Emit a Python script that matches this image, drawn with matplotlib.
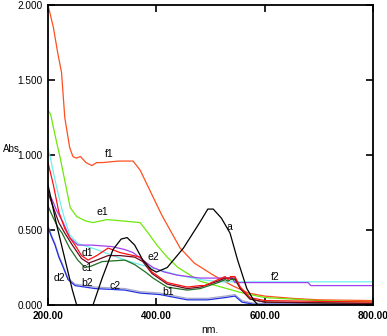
import numpy as np
import matplotlib.pyplot as plt

plt.rcParams['font.family'] = ['Liberation Sans', 'DejaVu Sans']

# wavelength (nm) / absorbance pairs
a_x = [200, 205, 215, 225, 235, 245, 253, 283, 300, 320, 335, 346, 360, 375, 390, 400, 420, 450, 480, 495, 505, 520, 536, 550, 567, 580, 588, 800]
a_y = [0.80, 0.72, 0.55, 0.40, 0.25, 0.10, 0.00, 0.00, 0.18, 0.37, 0.44, 0.45, 0.40, 0.30, 0.24, 0.22, 0.25, 0.38, 0.55, 0.64, 0.64, 0.58, 0.48, 0.30, 0.11, 0.03, 0.00, 0.00]

f1_x = [200, 210, 218, 225, 231, 240, 246, 252, 260, 270, 281, 290, 301, 330, 357, 370, 390, 410, 430, 444, 470, 505, 540, 570, 600, 650, 700, 800]
f1_y = [2.00, 1.85, 1.68, 1.55, 1.25, 1.05, 0.99, 0.98, 0.99, 0.95, 0.93, 0.95, 0.95, 0.96, 0.96, 0.90, 0.75, 0.60, 0.47, 0.38, 0.28, 0.20, 0.13, 0.08, 0.06, 0.045, 0.035, 0.03]

e1_x = [200, 205, 215, 222, 231, 241, 253, 270, 283, 309, 340, 370, 385, 401, 420, 440, 480, 520, 560, 600, 700, 800]
e1_y = [1.30, 1.27, 1.10, 0.99, 0.83, 0.65, 0.59, 0.56, 0.55, 0.57, 0.56, 0.55, 0.48, 0.40, 0.32, 0.25, 0.16, 0.12, 0.08, 0.05, 0.03, 0.02]

f2_x = [200, 205, 215, 225, 231, 240, 255, 290, 320, 342, 370, 400, 440, 481, 520, 800]
f2_y = [1.05, 0.97, 0.80, 0.65, 0.57, 0.47, 0.41, 0.37, 0.33, 0.30, 0.27, 0.24, 0.20, 0.17, 0.155, 0.155]

e2_x = [200, 208, 216, 228, 240, 255, 280, 318, 342, 357, 375, 394, 415, 438, 481, 540, 545, 680, 685, 800]
e2_y = [0.75, 0.70, 0.63, 0.55, 0.45, 0.40, 0.40, 0.39, 0.37, 0.35, 0.30, 0.25, 0.22, 0.20, 0.18, 0.18, 0.15, 0.15, 0.13, 0.13]

red_x = [200, 210, 220, 231, 240, 250, 262, 274, 290, 311, 333, 370, 380, 392, 420, 457, 481, 490, 514, 527, 532, 537, 545, 555, 573, 600, 700, 800]
red_y = [0.95, 0.80, 0.62, 0.51, 0.45, 0.40, 0.33, 0.30, 0.33, 0.38, 0.35, 0.32, 0.28, 0.22, 0.15, 0.12, 0.13, 0.13, 0.17, 0.19, 0.17, 0.19, 0.19, 0.12, 0.05, 0.03, 0.025, 0.02]

d1_x = [200, 210, 220, 231, 245, 262, 275, 290, 311, 333, 360, 375, 392, 420, 457, 481, 514, 527, 545, 555, 573, 600, 800]
d1_y = [0.75, 0.65, 0.55, 0.48, 0.40, 0.31, 0.28, 0.30, 0.33, 0.33, 0.32, 0.29, 0.21, 0.14, 0.11, 0.12, 0.16, 0.18, 0.18, 0.11, 0.04, 0.02, 0.01]

c1_x = [200, 210, 218, 226, 240, 255, 263, 268, 280, 300, 342, 360, 380, 394, 420, 457, 481, 514, 527, 532, 537, 545, 555, 573, 600, 800]
c1_y = [0.66, 0.58, 0.52, 0.48, 0.38, 0.30, 0.27, 0.25, 0.26, 0.29, 0.30, 0.27, 0.22, 0.18, 0.12, 0.10, 0.11, 0.15, 0.17, 0.16, 0.17, 0.17, 0.11, 0.04, 0.02, 0.01]

d2_x = [200, 206, 213, 220, 226, 237, 250, 287, 342, 370, 407, 457, 495, 527, 545, 558, 580, 800]
d2_y = [0.52, 0.46, 0.40, 0.32, 0.27, 0.17, 0.13, 0.11, 0.10, 0.08, 0.07, 0.035, 0.035, 0.05, 0.06, 0.02, 0.005, 0.005]

g_x = [200, 206, 213, 220, 226, 237, 250, 287, 342, 370, 407, 457, 495, 527, 545, 558, 580, 800]
g_y = [0.53, 0.47, 0.41, 0.33, 0.28, 0.18, 0.14, 0.12, 0.11, 0.09, 0.08, 0.045, 0.045, 0.06, 0.07, 0.03, 0.012, 0.012]

curves = [
    (f1_x, f1_y, '#ff4f1f'),
    (e1_x, e1_y, '#6ee80a'),
    (f2_x, f2_y, '#6cf0ee'),
    (e2_x, e2_y, '#a040f0'),
    (g_x, g_y, '#a8a8c8'),
    (d2_x, d2_y, '#2030e0'),
    (c1_x, c1_y, '#1f6e24'),
    (d1_x, d1_y, '#6a0a20'),
    (red_x, red_y, '#ff1010'),
    (a_x, a_y, '#000000'),
]

# curve labels: text, x (nm), y (abs)
lab_text = ['a', 'f1', 'e1', 'e2', 'd1', 'c1', 'd2', 'b2', 'c2', 'b1', 'f2']
lab_x = [534, 313, 300, 394, 272, 272, 222, 272, 324, 422, 619]
lab_y = [0.52, 1.01, 0.62, 0.32, 0.35, 0.25, 0.18, 0.15, 0.13, 0.09, 0.19]

fig = plt.figure(figsize=(3.87, 3.36), dpi=100)
ax = fig.add_axes([0.124, 0.092, 0.840, 0.893])

for xs, ys, c in curves:
    ax.plot(xs, ys, color=c, lw=0.9)

for t, x, y in zip(lab_text, lab_x, lab_y):
    ax.text(x, y, t, fontsize=7.5, ha='center', va='center')

ax.set_xlim(200, 800)
ax.set_ylim(0, 2.0)
ax.set_xticks([200, 400, 600, 800])
ax.set_xticklabels(['200.00', '400.00', '600.00', '800.00'], fontweight='bold')
ax.set_yticks([0, 0.5, 1.0, 1.5, 2.0])
ax.set_yticklabels(['0.000', '0.500', '1.000', '1.500', '2.000'])
ax.tick_params(direction='in', length=5, width=1.2, labelsize=7.2, top=True, right=True, pad=4)
for s in ax.spines.values():
    s.set_linewidth(1.3)

fig.text(0.008, 0.558, 'Abs.', fontsize=7, ha='left', va='center')
fig.text(0.543, 0.018, 'nm.', fontsize=7.5, ha='center', va='center')

fig.savefig('out.png', dpi=100)
